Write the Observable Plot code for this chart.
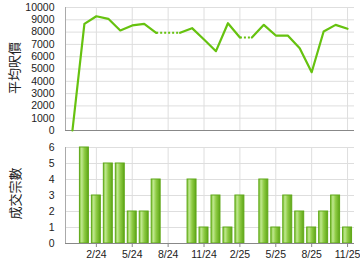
<!DOCTYPE html>
<html><head><meta charset="utf-8">
<script src="https://cdn.jsdelivr.net/npm/d3@7"></script>
<script src="https://cdn.jsdelivr.net/npm/@observablehq/plot@0.6"></script>
<style>
body{margin:0;background:#fff;}
#chart{width:360px;height:270px;}
#chart svg{display:block;}
</style>
</head><body><div id="chart"></div>
<script>
const months = ["12/23","1/24","2/24","3/24","4/24","5/24","6/24","7/24","8/24","9/24","10/24","11/24","12/24","1/25","2/25","3/25","4/25","5/25","6/25","7/25","8/25","9/25","10/25","11/25"];
const avgPrice = [0,8670,9290,9080,8130,8540,8670,7940,7940,7940,8320,7400,6450,8720,7560,7560,8590,7720,7720,6690,4740,8050,8590,8270];
const deals = [0,6,3,5,5,2,2,4,0,0,4,1,3,1,3,0,4,1,3,2,1,2,3,1];
const xTickLabels = ["2/24","5/24","8/24","11/24","2/25","5/25","8/25","11/25"];
const priceTicks = [0,1000,2000,3000,4000,5000,6000,7000,8000,9000,10000];
const dealTicks = [0,1,2,3,4,5,6];

const data = months.map((m,i)=>({i, m, price: avgPrice[i], deals: deals[i]}));
const tickIdx = xTickLabels.map(t=>months.indexOf(t));
const xDomain = [-0.58, 23.58];

// split line into solid runs and dotted links (months without deals)
const solid = [], dotted = [];
let run = 0, open = false;
for (let i = 0; i < data.length - 1; i++) {
  if (deals[i+1] === 0) {
    dotted.push({x1: i, y1: avgPrice[i], x2: i+1, y2: avgPrice[i+1]});
    if (open) { run++; open = false; }
  } else {
    if (!open) { solid.push({...data[i], run}); open = true; }
    solid.push({...data[i+1], run});
  }
}

const lineColor = "#66c20f";
const gridColor = "#dedede";
const baseStyle = {fontFamily:"'Liberation Sans', Arial, sans-serif", fontSize:"10.5px", color:"#222", background:"#fff", overflow:"visible"};

const topChart = Plot.plot({
  width:360, height:138, marginLeft:65, marginRight:6, marginTop:7, marginBottom:8,
  style: baseStyle,
  x:{domain:xDomain, axis:null},
  y:{domain:[0,10000], axis:null},
  marks:[
    Plot.gridY(priceTicks, {stroke:gridColor, strokeOpacity:1}),
    Plot.gridX(tickIdx, {stroke:gridColor, strokeOpacity:1}),
    Plot.axisY(priceTicks, {tickSize:0, tickPadding:11, tickFormat:d=>String(d), label:null, fill:"#222"}),
    Plot.ruleX([xDomain[0]], {stroke:"#aaa"}),
    Plot.ruleY([0], {stroke:"#888"}),
    Plot.link(dotted, {x1:"x1", y1:"y1", x2:"x2", y2:"y2", stroke:lineColor, strokeWidth:2, strokeDasharray:"2,2"}),
    Plot.line(solid, {x:"i", y:"price", z:"run", stroke:lineColor, strokeWidth:2.2}),
    Plot.text(["平均呎價"], {frameAnchor:"left", textAnchor:"middle", dx:-51, dy:-1, rotate:-90, fontSize:13, fill:"#222", fontFamily:"'Noto Sans CJK TC', sans-serif"})
  ]
});

const bottomChart = Plot.plot({
  width:360, height:132, marginLeft:65, marginRight:6, marginTop:9, marginBottom:27,
  style: baseStyle,
  x:{domain:xDomain, axis:null},
  y:{domain:[0,6], axis:null},
  marks:[
    Plot.gridY(dealTicks, {stroke:gridColor, strokeOpacity:1}),
    Plot.gridX(tickIdx, {stroke:gridColor, strokeOpacity:1}),
    Plot.axisY(dealTicks, {tickSize:0, tickPadding:11, tickFormat:d=>String(d), label:null, fill:"#222"}),
    Plot.rectY(data.filter(d=>d.deals>0), {x1:d=>d.i-0.375, x2:d=>d.i+0.375, y:"deals", fill:"url(#barGrad)", stroke:"#5fa818", strokeWidth:1}),
    Plot.ruleX([xDomain[0]], {stroke:"#aaa"}),
    Plot.ruleY([0], {stroke:"#888"}),
    Plot.axisX(tickIdx, {tickSize:4, tickPadding:3, tickFormat:i=>months[i], stroke:"#888", fill:"#222", label:null}),
    Plot.text(["成交宗數"], {frameAnchor:"left", textAnchor:"middle", dx:-50, dy:-2, rotate:-90, fontSize:13, fill:"#222", fontFamily:"'Noto Sans CJK TC', sans-serif"})
  ]
});

const ns = "http://www.w3.org/2000/svg";
const defs = document.createElementNS(ns, "defs");
defs.innerHTML = '<linearGradient id="barGrad" x1="0" x2="1" y1="0" y2="0">' +
  '<stop offset="0" stop-color="#7cc232"/>' +
  '<stop offset="0.25" stop-color="#bfe78e"/>' +
  '<stop offset="0.55" stop-color="#8fcc45"/>' +
  '<stop offset="1" stop-color="#5ea516"/>' +
  '</linearGradient>';
bottomChart.insertBefore(defs, bottomChart.firstChild);

const host = document.getElementById("chart");
host.appendChild(topChart);
host.appendChild(bottomChart);
</script>
</body></html>
